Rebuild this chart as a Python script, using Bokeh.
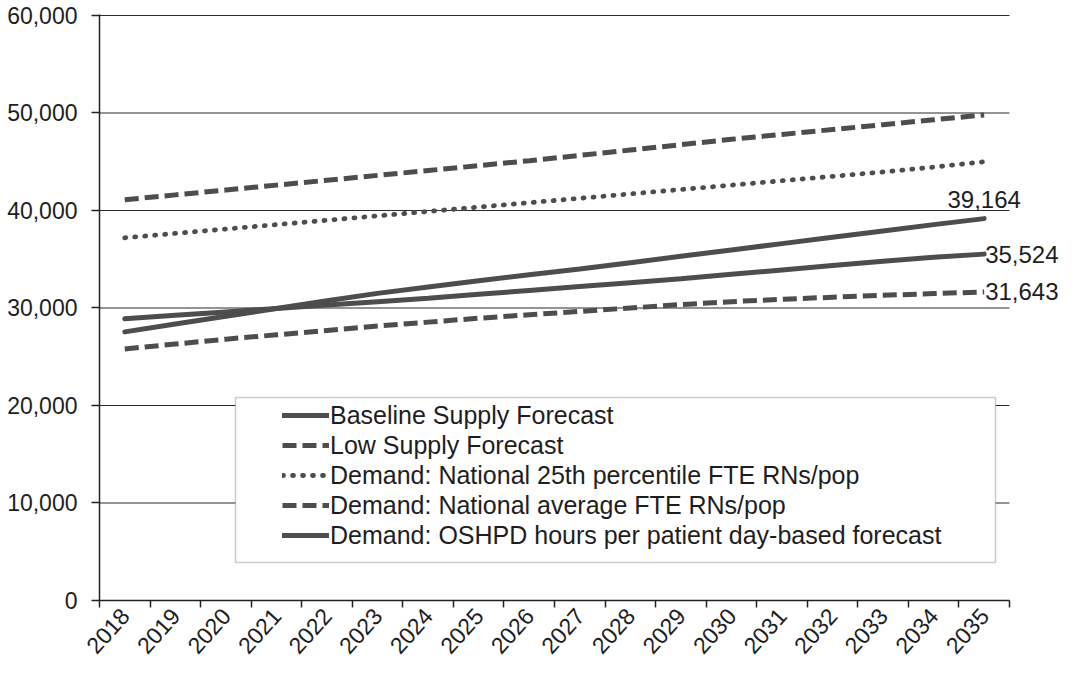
import math
from bokeh.plotting import figure
from bokeh.models import (Range1d, FixedTicker, NumeralTickFormatter, Legend, LegendItem,
                          BoxAnnotation, Label)
from bokeh.embed import file_html
from bokeh.resources import INLINE

# ---------------- data ----------------
years = ["2018", "2019", "2020", "2021", "2022", "2023", "2024", "2025", "2026",
         "2027", "2028", "2029", "2030", "2031", "2032", "2033", "2034", "2035"]

baseline_supply = [28900, 29250, 29600, 29950, 30300, 30650, 31000, 31400, 31800,
                   32200, 32600, 33000, 33450, 33900, 34350, 34800, 35200, 35524]
low_supply = [25800, 26300, 26800, 27250, 27700, 28150, 28550, 28950, 29300,
              29650, 30000, 30350, 30650, 30900, 31100, 31300, 31480, 31643]
demand_25th = [37200, 37650, 38100, 38550, 39000, 39450, 39900, 40350, 40800,
               41250, 41700, 42150, 42600, 43050, 43500, 43950, 44450, 45000]
demand_avg = [41100, 41600, 42100, 42600, 43100, 43600, 44100, 44600, 45100,
              45650, 46200, 46750, 47300, 47800, 48300, 48800, 49300, 49800]
demand_oshpd = [27550, 28350, 29150, 29950, 30750, 31500, 32150, 32800, 33400,
                34000, 34650, 35300, 35950, 36600, 37250, 37900, 38550, 39164]

series_labels = ["Baseline Supply Forecast",
                 "Low Supply Forecast",
                 "Demand: National 25th percentile FTE RNs/pop",
                 "Demand: National average FTE RNs/pop",
                 "Demand: OSHPD hours per patient day-based forecast"]

y_ticks = [0, 10000, 20000, 30000, 40000, 50000, 60000]

# ---------------- styling ----------------
FONT = "Liberation Sans"
LINE_COLOR = "#4d4d4d"
TEXT_COLOR = "#1e1e1e"
GRID_COLOR = "#2a2a2a"

x = list(range(len(years)))
x_lo = -0.5
x_hi = len(years) - 0.5          # end of the last category (end of axis / gridlines)
extra = 1.03                      # room on the right for the end-value labels

p = figure(width=1061, height=667, output_backend="svg", toolbar_location=None,
           x_range=Range1d(x_lo, x_hi + extra), y_range=Range1d(0, 60100),
           min_border_left=99, min_border_right=0, min_border_top=14,
           min_border_bottom=67)
p.outline_line_color = None
p.background_fill_color = "white"
p.border_fill_color = "white"

# grid: horizontal lines only across the category span
p.xgrid.visible = False
p.ygrid.visible = False
n = len(y_ticks)
p.segment(x0=[x_lo] * n, y0=y_ticks, x1=[x_hi] * n, y1=y_ticks,
          line_color=GRID_COLOR, line_width=1.2, level="underlay")

# y axis
p.yaxis.ticker = FixedTicker(ticks=y_ticks)
p.yaxis.formatter = NumeralTickFormatter(format="0,0")
p.yaxis.major_tick_out = 8
p.yaxis.major_tick_in = 0
p.yaxis.minor_tick_line_color = None
p.yaxis.major_label_standoff = 14
p.yaxis.axis_line_width = 1.5
p.yaxis.axis_line_color = "#222"
p.yaxis.major_tick_line_color = "#222"
p.yaxis.major_tick_line_width = 1.5
p.yaxis.major_label_text_font = FONT
p.yaxis.major_label_text_font_size = "23px"
p.yaxis.major_label_text_color = TEXT_COLOR

# x axis
p.xaxis.bounds = (x_lo, x_hi)
p.xaxis.ticker = FixedTicker(ticks=x, minor_ticks=[i - 0.5 for i in range(len(years) + 1)])
p.xaxis.major_label_overrides = {i: yr for i, yr in enumerate(years)}
p.xaxis.major_label_orientation = math.radians(48)
p.xaxis.major_tick_out = 0
p.xaxis.major_tick_in = 0
p.xaxis.minor_tick_out = 7
p.xaxis.minor_tick_in = 0
p.xaxis.minor_tick_line_color = "#222"
p.xaxis.minor_tick_line_width = 1.5
p.xaxis.axis_line_width = 1.5
p.xaxis.axis_line_color = "#222"
p.xaxis.major_label_standoff = 4
p.xaxis.major_label_text_font = FONT
p.xaxis.major_label_text_font_size = "23px"
p.xaxis.major_label_text_color = TEXT_COLOR

# lines
r_base = p.line(x, baseline_supply, line_color=LINE_COLOR, line_width=5, line_cap="round")
r_low = p.line(x, low_supply, line_color=LINE_COLOR, line_width=5, line_dash="14 6")
r_25 = p.line(x, demand_25th, line_color=LINE_COLOR, line_width=4.8, line_dash="1 9",
              line_cap="round")
r_avg = p.line(x, demand_avg, line_color=LINE_COLOR, line_width=5, line_dash="14 6")
r_osh = p.line(x, demand_oshpd, line_color=LINE_COLOR, line_width=5, line_cap="round")

# end labels
lab_kw = dict(text_font=FONT, text_font_size="24px", text_color=TEXT_COLOR)
p.add_layout(Label(x=x[-1], y=demand_oshpd[-1], text=f"{demand_oshpd[-1]:,}",
                   text_align="center", text_baseline="bottom", y_offset=11, **lab_kw))
p.add_layout(Label(x=x[-1], y=baseline_supply[-1], text=f"{baseline_supply[-1]:,}",
                   text_align="left", text_baseline="middle", x_offset=1, **lab_kw))
p.add_layout(Label(x=x[-1], y=low_supply[-1], text=f"{low_supply[-1]:,}",
                   text_align="left", text_baseline="middle", x_offset=1, **lab_kw))

# legend box + legend
box = BoxAnnotation(left=136, right=896, bottom=38, top=203,
                    left_units="screen", right_units="screen",
                    top_units="screen", bottom_units="screen",
                    fill_color="white", fill_alpha=1.0,
                    line_color="#555555", line_width=1.5)
p.add_layout(box)

renderers = [r_base, r_low, r_25, r_avg, r_osh]
legend = Legend(items=[LegendItem(label=lbl, renderers=[r]) for lbl, r in zip(series_labels, renderers)],
                location=(183, 50), padding=0, spacing=0, margin=0,
                border_line_color=None, background_fill_alpha=0.0,
                glyph_width=47, glyph_height=30, label_height=30, label_standoff=1,
                label_text_font=FONT, label_text_font_size="25px",
                label_text_color=TEXT_COLOR)
p.add_layout(legend)

open("out.html", "w").write(file_html(p, INLINE))
